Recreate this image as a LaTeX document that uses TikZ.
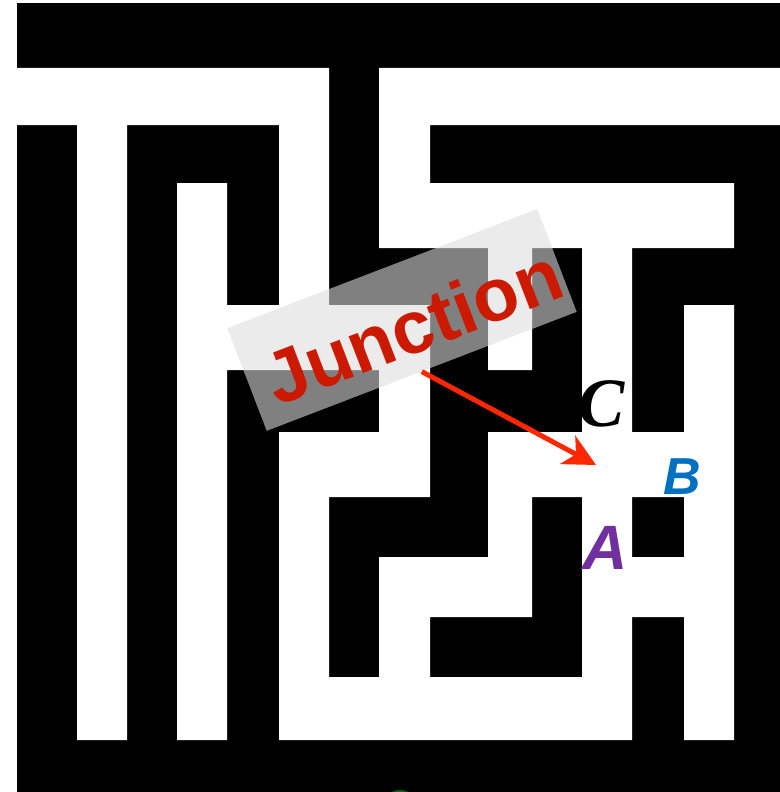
\documentclass[tikz,border=0pt]{standalone}
\usepackage{fontspec}
\setmainfont{Liberation Serif}
\newfontfamily\arialfont{Liberation Sans}
\usetikzlibrary{arrows.meta}
\definecolor{juncred}{RGB}{204,26,0}
\definecolor{arrred}{RGB}{255,40,0}
\definecolor{labblue}{RGB}{0,112,192}
\definecolor{labpurple}{RGB}{112,48,160}
\definecolor{boxgray}{RGB}{222,222,222}
\definecolor{glowgreen}{RGB}{40,150,40}
\begin{document}
\begin{tikzpicture}[x=0.75pt,y=-0.75pt,
  wall/.style={fill=black},
  corridor/.style={fill=white},
  juncbox/.style={fill=boxgray, fill opacity=0.58, rotate=21,
    minimum width=249pt, minimum height=82.5pt, inner sep=0pt},
  junctext/.style={text=juncred, rotate=21, inner sep=0pt,
    font=\arialfont\bfseries\fontsize{56pt}{60pt}\selectfont},
  lablettr/.style={inner sep=0pt},
  pointer/.style={draw=arrred, line width=3.75pt,
    -{Stealth[length=24pt,width=24pt,inset=7pt]}}
]
\useasboundingbox (0,0) rectangle (780,792);
\fill[white] (0,0) rectangle (780,792);
% maze walls
\fill[wall] (17,3) rectangle (780,792);
% corridors (one path, no seams)
\fill[corridor]
  (17,68) rectangle (329,125)
  (379,68) rectangle (780,125)
  (77,68) rectangle (127,740)
  (177,183) rectangle (227,740)
  (279,68) rectangle (329,370)
  (279,432) rectangle (329,740)
  (379,68) rectangle (430,248)
  (379,305) rectangle (430,497)
  (379,557) rectangle (430,740)
  (488,183) rectangle (532,370)
  (488,432) rectangle (532,617)
  (582,183) rectangle (632,740)
  (684,183) rectangle (734,248)
  (684,305) rectangle (734,740)
  (379,183) rectangle (734,248)
  (177,305) rectangle (430,370)
  (279,432) rectangle (430,497)
  (488,432) rectangle (734,497)
  (379,557) rectangle (532,617)
  (582,557) rectangle (734,617)
  (279,677) rectangle (632,740);
% small green glow at the bottom edge
\fill[glowgreen, opacity=0.6] (400,795) ellipse [x radius=10, y radius=5];
% junction label
\node[juncbox] (jbox) at (402,320) {};
\node[junctext] (jtext) at (413,326) {Junction};
\coordinate (junc) at (596,465);
\draw[pointer] (jbox.south) -- (junc);
% letters
\node[lablettr, font=\bfseries\itshape\fontsize{52pt}{58pt}\selectfont] (labC) at (602,404) {C};
\node[lablettr, text=labblue, font=\arialfont\bfseries\itshape\fontsize{39pt}{44pt}\selectfont] (labB) at (682,477) {B};
\node[lablettr, text=labpurple, font=\arialfont\bfseries\itshape\fontsize{47pt}{52pt}\selectfont] (labA) at (605,548) {A};
\end{tikzpicture}
\end{document}
